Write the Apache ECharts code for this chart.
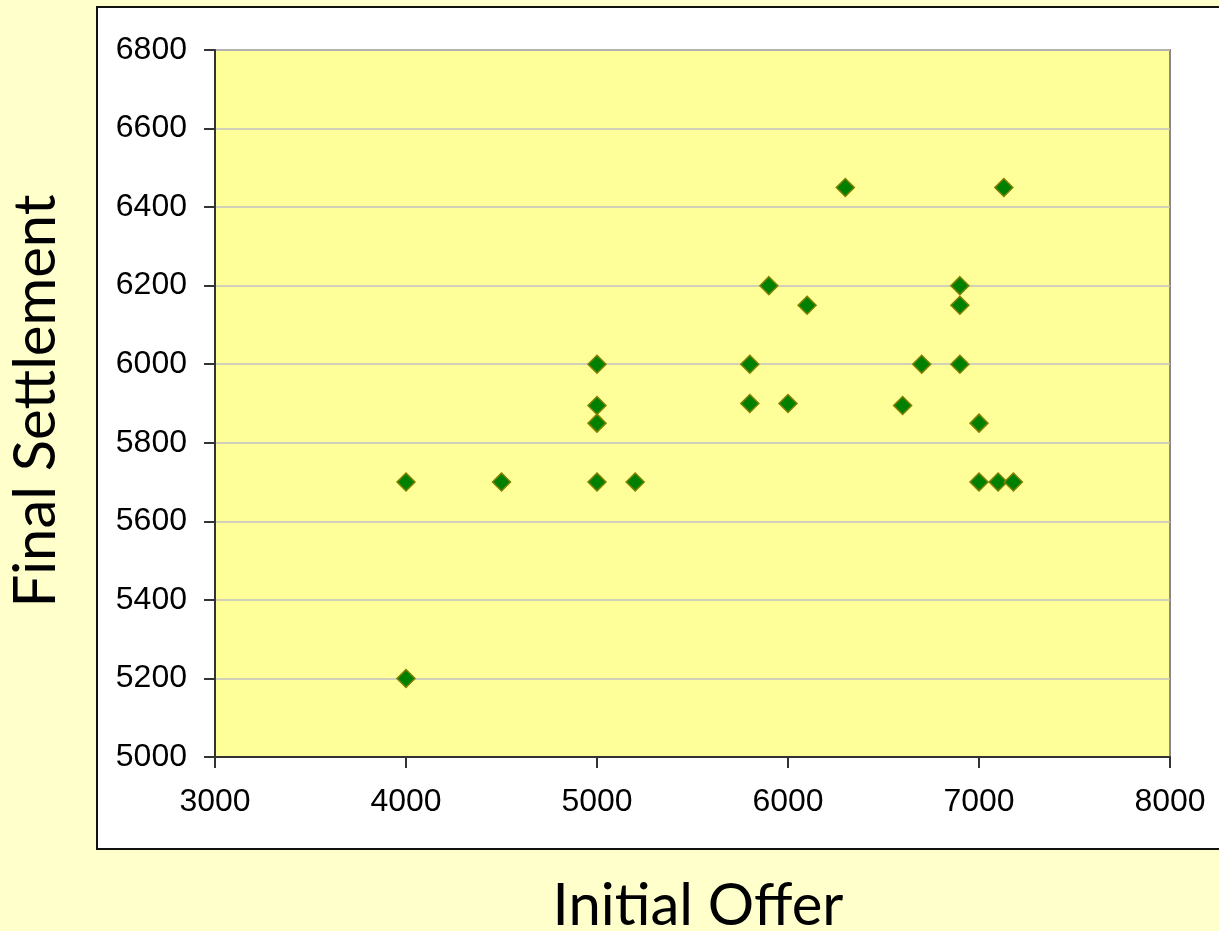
<!DOCTYPE html>
<html>
<head>
<meta charset="utf-8">
<script src="https://cdn.jsdelivr.net/npm/echarts@6/dist/echarts.min.js"></script>
<style>
  html, body { margin: 0; padding: 0; background: #FFFFCC; }
  #chart { width: 1219px; height: 931px; }
</style>
</head>
<body>
<div id="chart"></div>
<script>
// Initial offer vs. final settlement for each case
const initialOffer = [4000, 4000, 4500, 5000, 5000, 5000, 5000, 5200, 5800, 5800, 5900, 6000,
                      6100, 6300, 6600, 6700, 6900, 6900, 6900, 7000, 7000, 7100, 7130, 7180];
const finalSettlement = [5700, 5200, 5700, 6000, 5895, 5850, 5700, 5700, 6000, 5900, 6200, 5900,
                         6150, 6450, 5895, 6000, 6200, 6150, 6000, 5850, 5700, 5700, 6450, 5700];

const xTitle = 'Initial Offer';
const yTitle = 'Final Settlement';

const points = initialOffer.map((x, i) => [x, finalSettlement[i]]);

const chart = echarts.init(document.getElementById('chart'), null, { renderer: 'canvas' });

const plainNumber = v => String(v);
const tickFont = { fontFamily: '"Liberation Sans", Arial, sans-serif', fontSize: 32, color: '#000', formatter: plainNumber };
const titleFont = { fontFamily: 'Lato, "Noto Sans", sans-serif', fontSize: 58, color: '#000' };

chart.setOption({
  backgroundColor: '#FFFFCC',
  animation: false,
  graphic: [{
    type: 'rect',
    z: -10,
    shape: { x: 97, y: 7, width: 1140, height: 842 },
    style: { fill: '#FFFFFF', stroke: '#111111', lineWidth: 2 }
  }],
  grid: {
    left: 215, top: 50, right: 49, bottom: 174,
    outerBoundsMode: 'none',
    containLabel: false,
    show: true,
    backgroundColor: '#FFFF99',
    borderColor: '#888888',
    borderWidth: 2
  },
  xAxis: {
    type: 'value',
    min: 3000, max: 8000, interval: 1000,
    name: xTitle,
    nameLocation: 'middle',
    nameGap: 120,
    nameTextStyle: Object.assign({ padding: [0, 0, 0, 11] }, titleFont),
    axisLine: { show: true, onZero: false, lineStyle: { color: '#333333', width: 2 } },
    axisTick: { show: true, length: 11, lineStyle: { color: '#333333', width: 2 } },
    axisLabel: Object.assign({ margin: 29 }, tickFont),
    splitLine: { show: false }
  },
  yAxis: {
    type: 'value',
    min: 5000, max: 6800, interval: 200,
    name: yTitle,
    nameLocation: 'middle',
    nameRotate: 90,
    nameGap: 150,
    nameTextStyle: Object.assign({ padding: [0, 0, 0, 5] }, titleFont),
    axisLine: { show: true, onZero: false, lineStyle: { color: '#333333', width: 2 } },
    axisTick: { show: true, length: 11, lineStyle: { color: '#333333', width: 2 } },
    axisLabel: Object.assign({ margin: 28 }, tickFont),
    splitLine: { show: true, lineStyle: { color: '#C0C0C4', width: 1.5 } }
  },
  series: [{
    type: 'scatter',
    data: points,
    symbol: 'diamond',
    symbolSize: 18,
    itemStyle: { color: '#008000', borderColor: '#808000', borderWidth: 1.5, opacity: 1 }
  }]
});
</script>
</body>
</html>
